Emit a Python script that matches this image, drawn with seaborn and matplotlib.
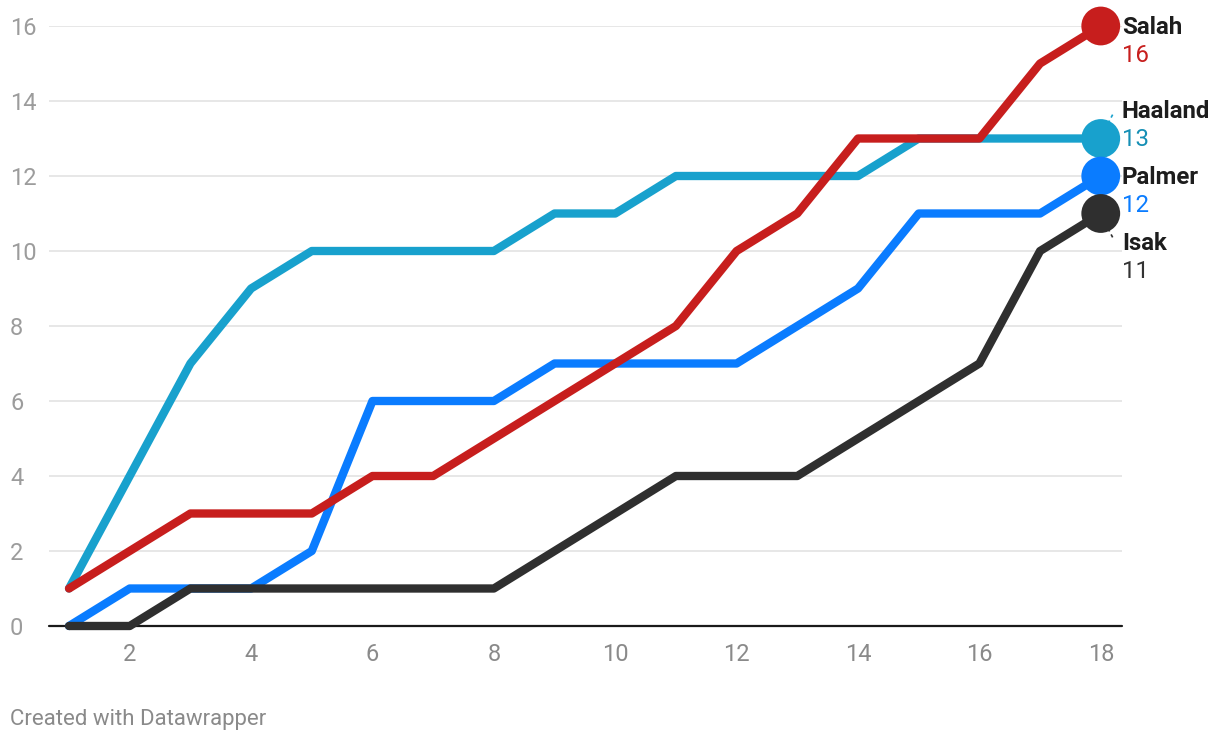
import numpy as np
import pandas as pd
import matplotlib
matplotlib.use("Agg")
import matplotlib.pyplot as plt
import seaborn as sns

rounds = list(range(1, 19))
salah = [1, 2, 3, 3, 3, 4, 4, 5, 6, 7, 8, 10, 11, 13, 13, 13, 15, 16]
haaland = [1, 4, 7, 9, 10, 10, 10, 10, 11, 11, 12, 12, 12, 12, 13, 13, 13, 13]
palmer = [0, 1, 1, 1, 2, 6, 6, 6, 7, 7, 7, 7, 8, 9, 11, 11, 11, 12]
isak = [0, 0, 1, 1, 1, 1, 1, 1, 2, 3, 4, 4, 4, 5, 6, 7, 10, 11]
players = ["Haaland", "Palmer", "Salah", "Isak"]
y_ticks = [0, 2, 4, 6, 8, 10, 12, 14, 16]
x_ticks = [2, 4, 6, 8, 10, 12, 14, 16, 18]

colors = {"Salah": "#c71e1d", "Haaland": "#18a1cd", "Palmer": "#0a7cff", "Isak": "#2f2f2f"}
value_colors = {"Salah": "#c71e1d", "Haaland": "#158fb5", "Palmer": "#0a7cff", "Isak": "#333333"}

series = {"Salah": salah, "Haaland": haaland, "Palmer": palmer, "Isak": isak}
df = pd.concat([pd.DataFrame({"round": rounds, "goals": series[p], "player": p}) for p in players],
               ignore_index=True)

sns.set_theme(style="white")
plt.rcParams["font.family"] = ["Roboto", "DejaVu Sans"]

fig = plt.figure(figsize=(12.2, 7.42), dpi=100)
ax = fig.add_axes([49 / 1220, 116 / 742, 1073 / 1220, 600 / 742])

ax.set_ylim(0, 16)
ax.set_xlim(0.67, 18.35)
ax.set_yticks(y_ticks)
ax.set_xticks(x_ticks)
ax.grid(axis="y", color="#e3e3e3", linewidth=1.2, zorder=0)
for s in ax.spines.values():
    s.set_visible(False)
ax.axhline(0, color="#1a1a1a", linewidth=1.6, zorder=1)

sns.lineplot(data=df, x="round", y="goals", hue="player", hue_order=players,
             palette=colors, linewidth=6, legend=False, ax=ax,
             solid_capstyle="round", solid_joinstyle="round")
for line in ax.get_lines():
    line.set_clip_on(False)
    line.set_zorder(3)

last = df[df["round"] == rounds[-1]]
sns.scatterplot(data=last, x="round", y="goals", hue="player", hue_order=players,
                palette=colors, s=780, edgecolor="none", legend=False, ax=ax,
                clip_on=False, zorder=4)

ax.set_xlabel("")
ax.set_ylabel("")
ax.tick_params(axis="both", length=0, labelsize=17)
ax.tick_params(axis="y", pad=28, labelcolor="#9c9c9c")
for lab in ax.get_yticklabels():
    lab.set_horizontalalignment("left")
ax.tick_params(axis="x", pad=12, labelcolor="#8a8a8a")

# end labels (name + value); vertical offsets in data units
label_offsets = {"Salah": 0.0, "Haaland": 0.76, "Palmer": 0.0, "Isak": -0.76}
for p in players:
    yv = series[p][-1]
    ypos = yv + label_offsets[p]
    ax.annotate(p, xy=(rounds[-1], ypos), xytext=(21, -2), textcoords="offset pixels",
                fontsize=17.3, fontweight="bold", color="#1d1d1d", va="center", ha="left",
                annotation_clip=False)
    ax.annotate(str(yv), xy=(rounds[-1], ypos), xytext=(21, -29), textcoords="offset pixels",
                fontsize=17.3, color=value_colors[p], va="center", ha="left",
                annotation_clip=False)

# small dashed leaders for Haaland and Isak
ax.plot([18.12, 18.2], [13.4, 13.65], color=colors["Haaland"], linewidth=1.2, linestyle=(0, (2, 2)),
        clip_on=False)
ax.plot([18.12, 18.2], [10.6, 10.35], color=colors["Isak"], linewidth=1.2, linestyle=(0, (2, 2)),
        clip_on=False)

fig.text(10 / 1220, 1 - 720 / 742, "Created with Datawrapper", fontsize=16, color="#8a8a8a",
         ha="left", va="center")

fig.savefig("out.png", dpi=100)
